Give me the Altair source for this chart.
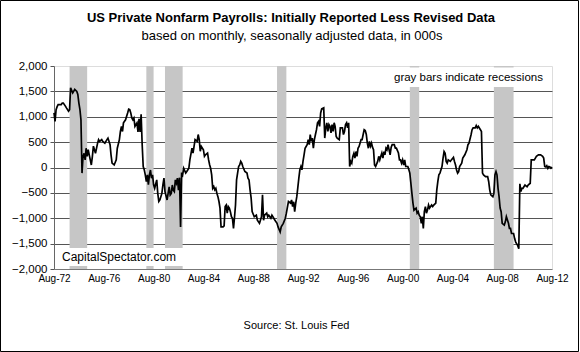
import altair as alt
import pandas as pd

# ---- data (monthly, months counted from Aug-1972) ----
months_after_aug1972 = [
    0, 1, 2, 3, 4, 5, 7, 8, 9, 11, 12, 14, 15, 16, 18, 19, 20, 22, 23, 24,
    25, 26, 27, 28, 29, 30, 31, 32, 33, 35, 36, 37, 38, 40, 42, 43, 44, 46, 47, 49,
    51, 52, 54, 55, 56, 58, 60, 61, 63, 64, 65, 66, 67, 69, 71, 72, 73, 74, 75, 76,
    77, 78, 80, 81, 82, 83, 84, 85, 86, 87, 88, 89, 90, 91, 92, 93, 94, 95, 96, 97,
    99, 100, 101, 102, 104, 105, 106, 107, 109, 110, 111, 112, 113, 114, 115, 116, 117, 118, 119, 120,
    121, 122, 123, 124, 125, 127, 128, 130, 131, 133, 134, 135, 136, 138, 139, 140, 141, 142, 144, 145,
    146, 148, 149, 150, 151, 152, 153, 154, 155, 156, 157, 158, 159, 160, 161, 163, 164, 165, 166, 167,
    168, 169, 170, 171, 172, 173, 174, 175, 176, 177, 178, 179, 180, 181, 182, 184, 186, 187, 188, 189,
    190, 191, 193, 195, 196, 198, 199, 200, 201, 202, 203, 205, 206, 207, 209, 210, 211, 213, 215, 216,
    218, 219, 221, 223, 224, 226, 228, 229, 230, 231, 232, 233, 234, 235, 236, 237, 238, 239, 240, 241,
    242, 244, 245, 246, 247, 248, 249, 250, 251, 252, 253, 254, 255, 256, 257, 258, 260, 261, 262, 263,
    264, 265, 266, 267, 268, 269, 270, 271, 272, 273, 275, 276, 278, 279, 280, 281, 282, 283, 284, 285,
    286, 287, 288, 289, 290, 291, 292, 293, 294, 295, 296, 297, 298, 299, 300, 301, 302, 303, 304, 305,
    306, 307, 308, 309, 310, 312, 313, 314, 315, 316, 317, 318, 319, 320, 321, 322, 324, 325, 326, 328,
    329, 330, 332, 333, 334, 335, 336, 337, 338, 339, 341, 342, 343, 344, 345, 346, 347, 349, 350, 351,
    352, 353, 354, 355, 356, 357, 358, 359, 360, 361, 362, 364, 365, 366, 368, 369, 370, 371, 372, 373,
    374, 375, 376, 377, 378, 379, 380, 382, 383, 385, 386, 387, 388, 389, 390, 391, 393, 394, 396, 398,
    399, 400, 402, 403, 404, 406, 407, 408, 409, 411, 412, 413, 414, 416, 418, 419, 420, 421, 423, 424,
    425, 426, 427, 428, 429, 430, 431, 432, 434, 435, 436, 438, 439, 440, 441, 443, 444, 445, 447, 448,
    449, 450, 451, 452, 454, 456, 457, 459, 460, 461, 463, 464, 465, 467, 468, 469, 471, 472, 473, 474,
    475, 476, 477, 478, 479, 480,
]
revision_000s = [
    1075, 910, 1140, 1200, 1240, 1240, 1240, 1270, 1270, 1210, 1175, 1110, 1140, 1570, 1470, 1500, 1540, 1500, 1440, 1270,
    1140, 940, -110, 220, 280, 150, 380, 220, 350, 150, 50, 220, 420, 280, 480, 550, 515, 550, 515, 480,
    550, 580, 450, 250, 85, 50, 150, 380, 550, 710, 810, 710, 880, 940, 1075, 1150, 1140, 1075, 975, 940,
    975, 810, 880, 700, 960, 700, 1050, 450, 20, -45, -145, -280, -145, -340, -145, -50, -210, -145, -340, -410,
    -245, -510, -670, -640, -510, -340, -210, -475, -640, -510, -380, -540, -510, -345, -445, -475, -245, -310, -210, -445,
    -200, -1170, -100, -145, -15, -110, -80, -15, 150, 380, 285, 415, 550, 515, 650, 550, 320, 415, 350, 220,
    250, 285, 150, 50, -15, -145, -410, -375, -440, -410, -510, -575, -670, -800, -1170, -1170, -1150, -770, -740, -900,
    -770, -800, -870, -970, -1000, -1200, -970, -740, -245, -110, 20, 50, 120, 85, 20, -80, -110, -210, -245, -440,
    -600, -870, -970, -940, -1040, -1100, -1040, -970, -540, -1040, -940, -900, -970, -940, -1000, -940, -970, -1040, -1100, -1170,
    -1270, -1170, -1100, -1000, -900, -670, -700, -640, -770, -675, -870, -700, -575, -400, -210, -45, 20, -45, 120, 250,
    380, 450, 550, 450, 650, 515, 580, 380, 550, 650, 745, 880, 910, 810, 1075, 1155, 1175, 580, 780, 880,
    710, 845, 810, 680, 845, 710, 880, 810, 610, 580, 550, 780, 780, 650, 710, 845, 880, 780, 880, 20,
    120, 85, 220, 280, 185, 315, 220, 380, 415, 480, 550, 550, 650, 745, 730, 650, 480, 380, 515, 420,
    480, 400, 350, 50, 20, 120, 220, 150, 220, 285, 185, 315, 250, 380, 350, 450, 250, 400, 450, 450,
    380, 380, 285, 150, 150, 85, 150, 50, 150, 20, 20, -45, -110, -310, -510, -700, -840, -800, -900, -870,
    -940, -970, -1100, -970, -1200, -870, -770, -900, -840, -740, -800, -740, -770, -740, -700, -440, -275, -145, -110, -45,
    20, 185, 315, 280, 120, 85, 150, 120, 150, 200, 120, 50, -50, -110, -80, 20, 85, 185, 250, 350,
    450, 480, 650, 745, 780, 780, 825, 780, 810, 745, 710, -110, -145, -180, -180, -275, -440, -540, -575, -510,
    -145, -80, -145, -410, -575, -800, -870, -1100, -1135, -1070, -970, -1100, -1200, -1200, -1300, -1300, -1400, -1470, -1540, -1600,
    -320, -475, -410, -410, -345, -380, -345, -310, 150, 150, 150, 185, 220, 250, 250, 250, 220, 185, 20, 10,
    35, -15, 20, 10, -15, 10,
]

recession_start = ["1973-11-01", "1980-01-01", "1981-07-01", "1990-07-01", "2001-03-01", "2007-12-01"]
recession_end = ["1975-04-01", "1980-08-01", "1982-12-01", "1991-04-01", "2001-12-01", "2009-07-01"]

x_tick_years = [1972, 1976, 1980, 1984, 1988, 1992, 1996, 2000, 2004, 2008, 2012]
y_ticks = [-2000, -1500, -1000, -500, 0, 500, 1000, 1500, 2000]

title_text = ["US Private Nonfarm Payrolls: Initially Reported Less Revised Data"]
subtitle_text = ["based on monthly, seasonally adjusted data, in 000s"]
source_text = "Source: St. Louis Fed"
credit_text = ["CapitalSpectator.com"]
note_text = ["gray bars indicate recessions"]

FONT = "Liberation Sans"
W, H = 498, 203

base = pd.Timestamp("1972-08-01")
series = pd.DataFrame({
    "date": [base + pd.DateOffset(months=m) for m in months_after_aug1972],
    "value": revision_000s,
})
recessions = pd.DataFrame({
    "start": pd.to_datetime(recession_start),
    "end": pd.to_datetime(recession_end),
})

x_scale = alt.Scale(domain=[alt.DateTime(year=1972, month=8, date=1),
                            alt.DateTime(year=2012, month=8, date=1)])
y_scale = alt.Scale(domain=[-2000, 2000], nice=False)

x_axis = alt.Axis(
    values=[alt.DateTime(year=y, month=8, date=1) for y in x_tick_years],
    format="%b-%y", ticks=False, grid=False, labelFlush=False, labelOverlap=False,
    labelFontSize=10, labelPadding=4, labelColor="black", labelFont=FONT,
    domainColor="#777777", zindex=1,
    title=source_text, titleFontSize=11, titleFontWeight="normal", titleFont=FONT,
    titleColor="black", titleX=242, titleY=56, titleAlign="center", titleBaseline="middle",
)
y_axis = alt.Axis(
    values=y_ticks, format=",.0f", title=None, tickSize=4, tickColor="#555555",
    domainColor="#666666", labelFontSize=11.5, labelPadding=3, labelColor="black", labelFont=FONT,
    grid=True,
    gridColor={"condition": {"test": "abs(datum.value) >= 2000", "value": "transparent"},
               "value": "#555555"},
)

bars = alt.Chart(recessions).mark_rect(color="#c6c6c6").encode(
    x=alt.X("start:T", scale=x_scale, axis=x_axis),
    x2="end:T",
    y=alt.value(0),
    y2=alt.value(H),
)

line = alt.Chart(series).mark_line(color="black", strokeWidth=1.7).encode(
    x=alt.X("date:T", scale=x_scale, axis=x_axis),
    y=alt.Y("value:Q", scale=y_scale, axis=y_axis),
)

credit_box = alt.Chart(pd.DataFrame({"t": credit_text})).mark_rect(color="white").encode(
    x=alt.value(2), x2=alt.value(135), y=alt.value(182), y2=alt.value(200))
credit = alt.Chart(pd.DataFrame({"t": credit_text})).mark_text(
    align="left", baseline="alphabetic", fontSize=12, font=FONT, color="black").encode(
    x=alt.value(8), y=alt.value(195), text="t:N")

note_box = alt.Chart(pd.DataFrame({"t": note_text})).mark_rect(color="white").encode(
    x=alt.value(334), x2=alt.value(497), y=alt.value(1.5), y2=alt.value(21))
note = alt.Chart(pd.DataFrame({"t": note_text})).mark_text(
    align="left", baseline="alphabetic", fontSize=11.5, font=FONT, color="black").encode(
    x=alt.value(340), y=alt.value(14.5), text="t:N")

title = alt.Chart(pd.DataFrame({"t": title_text})).mark_text(
    align="center", baseline="middle", fontSize=13, fontWeight="bold", font=FONT, color="black").encode(
    x=alt.value(237), y=alt.value(-48), text="t:N")
subtitle = alt.Chart(pd.DataFrame({"t": subtitle_text})).mark_text(
    align="center", baseline="middle", fontSize=13, font=FONT, color="black").encode(
    x=alt.value(238), y=alt.value(-30), text="t:N")

frame = alt.Chart(pd.DataFrame({"t": [0]})).mark_rect(
    fillOpacity=0, stroke="black", strokeWidth=1).encode(
    x=alt.value(-53.5), x2=alt.value(524.5), y=alt.value(-65.5), y2=alt.value(285.5))

chart = alt.layer(bars, line, credit_box, credit, note_box, note, title, subtitle, frame).properties(
    width=W, height=H,
    autosize=alt.AutoSizeParams(type="none"),
    padding={"left": 54, "top": 66, "right": 28, "bottom": 83},
).configure_view(
    stroke="#8a8a8a", strokeDash=[1, 1], strokeWidth=1,
).configure(background="white", font=FONT)

chart.save("out.html", embed_options={"renderer": "svg", "actions": False})
